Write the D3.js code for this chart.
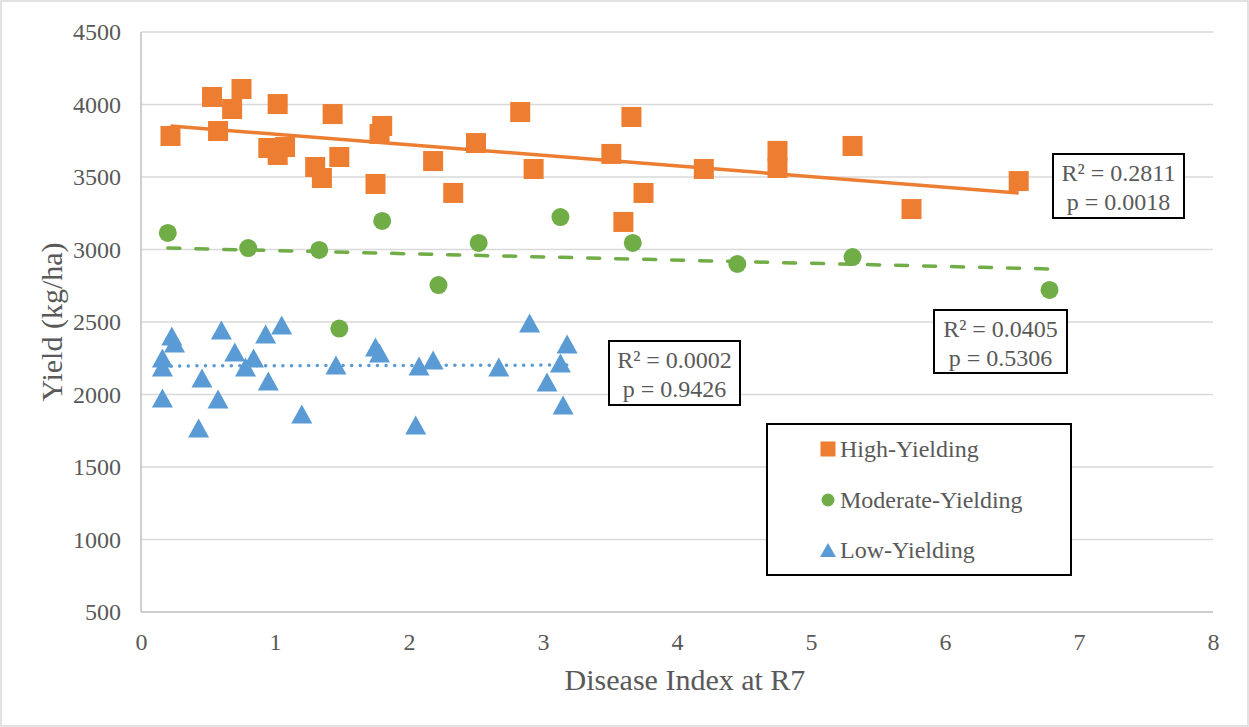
<!DOCTYPE html>
<html>
<head>
<meta charset="utf-8">
<script src="https://cdn.jsdelivr.net/npm/d3@7"></script>
<style>
  body { margin: 0; background: #fff; }
  svg text { font-family: "Liberation Serif", "DejaVu Serif", serif !important; fill: #595959; }
</style>
</head>
<body>
<div id="chart"></div>
<script>
// data
let highX = [0.22, 0.53, 0.75, 0.68, 0.575, 1.02, 0.95, 1.075, 1.02, 1.43, 1.30, 1.35, 1.48, 1.80, 1.78, 1.75,
             2.18, 2.33, 2.50, 2.83, 2.93, 3.51, 3.66, 3.75, 3.60, 4.20, 4.75, 4.75, 5.31, 5.75, 6.55]
let highY = [3783, 4052, 4107, 3969, 3817, 4003, 3700, 3707, 3652, 3934, 3569, 3493, 3638, 3852, 3797, 3452,
             3610, 3390, 3734, 3948, 3555, 3659, 3914, 3390, 3190, 3555, 3680, 3562, 3714, 3279, 3472]

let modX = [0.20, 0.80, 1.33, 1.48, 1.80, 2.22, 2.52, 3.13, 3.67, 4.45, 5.31, 6.78]
let modY = [3114, 3010, 2997, 2455, 3197, 2755, 3045, 3224, 3045, 2900, 2948, 2721]

let lowX = [0.23, 0.25, 0.16, 0.16, 0.16, 0.60, 0.70, 0.455, 0.575, 0.43, 0.78, 0.84, 0.93, 1.05, 0.95, 1.20,
            1.455, 1.75, 1.78, 2.075, 2.18, 2.05, 2.67, 2.90, 3.03, 3.13, 3.18, 3.15]
let lowY = [2403, 2355, 2252, 2190, 1976, 2445, 2293, 2114, 1969, 1769, 2190, 2252, 2417, 2479, 2093, 1866,
            2203, 2328, 2286, 2197, 2238, 1790, 2190, 2493, 2086, 2217, 2348, 1928]

// trend line end points
let trendHigh = [[0.22, 3852], [6.55, 3390]]
let trendMod = [[0.20, 3010], [6.78, 2866]]
let trendLow = [[0.16, 2197], [3.18, 2203]]

let xTicks = [0, 1, 2, 3, 4, 5, 6, 7, 8]
let yTicks = [500, 1000, 1500, 2000, 2500, 3000, 3500, 4000, 4500]

let statsHigh = ['R² = 0.2811', 'p = 0.0018']
let statsMod = ['R² = 0.0405', 'p = 0.5306']
let statsLow = ['R² = 0.0002', 'p = 0.9426']

let legendNames = ['High-Yielding', 'Moderate-Yielding', 'Low-Yielding']

let W = 1249, H = 727
let margin = {left: 141, right: 36, top: 32, bottom: 115}
let width1 = W - margin.left - margin.right
let height1 = H - margin.top - margin.bottom

let orange = '#ED7D31', green = '#70AD47', blue = '#5B9BD5'
let serif = '"Liberation Serif", serif'

let svg = d3.select('#chart').append('svg')
  .attr('width', W)
  .attr('height', H)
  .attr('font-family', serif)

svg.append('rect')
  .attr('x', 1).attr('y', 1)
  .attr('width', W - 2).attr('height', H - 2)
  .attr('fill', '#fff')
  .attr('stroke', '#D9D9D9')
  .attr('stroke-width', 1.5)

let g = svg.append('g')
  .attr('transform', 'translate(' + margin.left + ', ' + margin.top + ')')

let x = d3.scaleLinear().domain([0, 8]).range([0, width1])
let y = d3.scaleLinear().domain([500, 4500]).range([height1, 0])

// gridlines
g.selectAll('.grid')
  .data(yTicks.slice(1))
  .enter().append('line')
  .attr('x1', 0).attr('x2', width1)
  .attr('y1', d => y(d)).attr('y2', d => y(d))
  .attr('stroke', '#D9D9D9')
  .attr('stroke-width', 1.5)

// axes lines
g.append('line')
  .attr('x1', 0).attr('x2', 0).attr('y1', 0).attr('y2', height1)
  .attr('stroke', '#BFBFBF').attr('stroke-width', 1.5)
g.append('line')
  .attr('x1', 0).attr('x2', width1).attr('y1', height1).attr('y2', height1)
  .attr('stroke', '#BFBFBF').attr('stroke-width', 1.5)

let yAxis = d3.axisLeft(y).tickValues(yTicks).tickFormat(d3.format('d')).tickSize(0).tickPadding(20)
let yAxisGroup = g.append('g').call(yAxis)
  .attr('font-family', serif)
  .attr('font-size', 24)
yAxisGroup.select('.domain').remove()
yAxisGroup.selectAll('text').attr('fill', '#595959')

let xAxis = d3.axisBottom(x).tickValues(xTicks).tickFormat(d3.format('d')).tickSize(0).tickPadding(21)
let xAxisGroup = g.append('g').attr('transform', 'translate(0,' + height1 + ')').call(xAxis)
  .attr('font-family', serif)
  .attr('font-size', 24)
xAxisGroup.select('.domain').remove()
xAxisGroup.selectAll('text').attr('fill', '#595959')

// axis titles
g.append('text')
  .attr('x', 544)
  .attr('y', height1 + 67)
  .attr('dy', '0.35em')
  .attr('font-size', 30)
  .attr('text-anchor', 'middle')
  .text('Disease Index at R7')

g.append('text')
  .attr('transform', 'translate(' + (51 - margin.left) + ',' + (height1 / 2) + ') rotate(-90)')
  .attr('dy', '0.35em')
  .attr('font-size', 30)
  .attr('text-anchor', 'middle')
  .text('Yield (kg/ha)')

// trend lines
let line = d3.line().x(d => x(d[0])).y(d => y(d[1]))

g.append('path')
  .attr('d', line(trendHigh))
  .attr('fill', 'none')
  .attr('stroke', orange)
  .attr('stroke-width', 3.5)

g.append('path')
  .attr('d', line(trendMod))
  .attr('fill', 'none')
  .attr('stroke', green)
  .attr('stroke-width', 3.5)
  .attr('stroke-linecap', 'round')
  .attr('stroke-dasharray', '12,16')

g.append('path')
  .attr('d', line(trendLow))
  .attr('fill', 'none')
  .attr('stroke', blue)
  .attr('stroke-width', 3.5)
  .attr('stroke-linecap', 'round')
  .attr('stroke-dasharray', '0.1,8.5')

// markers
let sq = 20
g.selectAll('.high')
  .data(highX)
  .enter().append('rect')
  .attr('class', 'high')
  .attr('x', d => x(d) - sq / 2)
  .attr('y', (d, i) => y(highY[i]) - sq / 2)
  .attr('width', sq).attr('height', sq)
  .attr('fill', orange)

g.selectAll('.mod')
  .data(modX)
  .enter().append('circle')
  .attr('class', 'mod')
  .attr('cx', d => x(d))
  .attr('cy', (d, i) => y(modY[i]))
  .attr('r', 9)
  .attr('fill', green)

let tri = function(cx, cy, w, h) {
  return 'M' + cx + ',' + (cy - h / 2) + 'L' + (cx + w / 2) + ',' + (cy + h / 2) + 'L' + (cx - w / 2) + ',' + (cy + h / 2) + 'Z'
}

g.selectAll('.low')
  .data(lowX)
  .enter().append('path')
  .attr('class', 'low')
  .attr('d', (d, i) => tri(x(d), y(lowY[i]), 21, 19))
  .attr('fill', blue)

// R² boxes
const statBox = function(lines, bx, by, bw, bh) {
  let b = svg.append('g').attr('transform', 'translate(' + bx + ',' + by + ')')
  b.append('rect')
    .attr('width', bw).attr('height', bh)
    .attr('fill', '#fff')
    .attr('stroke', '#000')
    .attr('stroke-width', 2)
  b.selectAll('text')
    .data(lines)
    .enter().append('text')
    .attr('x', bw / 2)
    .attr('y', (d, i) => 19 + i * 29)
    .attr('dy', '0.35em')
    .attr('text-anchor', 'middle')
    .attr('font-size', 24)
    .text(d => d)
}

statBox(statsHigh, 1053, 154, 131, 64)
statBox(statsMod, 934, 310, 133, 63)
statBox(statsLow, 609, 341, 131, 64)

// legend
let leg = svg.append('g').attr('transform', 'translate(767, 424)')
leg.append('rect')
  .attr('width', 304).attr('height', 151)
  .attr('fill', '#fff')
  .attr('stroke', '#000')
  .attr('stroke-width', 2)

let rowY = [25, 76, 126]
leg.append('rect').attr('x', 61 - 7.5).attr('y', rowY[0] - 7.5).attr('width', 15).attr('height', 15).attr('fill', orange)
leg.append('circle').attr('cx', 61).attr('cy', rowY[1]).attr('r', 6.5).attr('fill', green)
leg.append('path').attr('d', tri(61, rowY[2], 16, 14)).attr('fill', blue)

leg.selectAll('.lt')
  .data(legendNames)
  .enter().append('text')
  .attr('class', 'lt')
  .attr('x', 73)
  .attr('y', (d, i) => rowY[i])
  .attr('dy', '0.35em')
  .attr('font-size', 24)
  .text(d => d)
</script>
</body>
</html>
